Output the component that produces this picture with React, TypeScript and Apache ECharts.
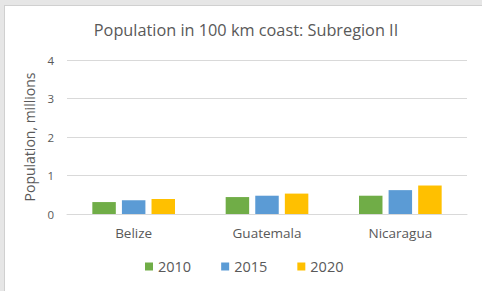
import React, { useEffect, useRef } from "react";
import * as echarts from "echarts";

const categories = ["Belize", "Guatemala", "Nicaragua"];
const years = ["2010", "2015", "2020"];
const values2010 = [0.31, 0.44, 0.475];
const values2015 = [0.355, 0.475, 0.62];
const values2020 = [0.39, 0.53, 0.74];
const yTicks = [0, 1, 2, 3, 4];

const colors = ["#70ad47", "#5b9bd5", "#ffc000"];
const font = "'Open Sans', 'Noto Sans', sans-serif";

export default function App() {
  const ref = useRef<HTMLDivElement>(null);
  useEffect(() => {
    document.body.style.margin = "0";
    document.body.style.background = "#e6e6e6";
    const chart = echarts.init(ref.current!, null, { renderer: "svg" });
    const data = [values2010, values2015, values2020];
    chart.setOption({
      animation: false,
      backgroundColor: "transparent",
      title: {
        text: "Population in 100 km coast: Subregion II",
        left: 241,
        textAlign: "center",
        top: 17,
        textStyle: { fontFamily: font, fontSize: 16.3, fontWeight: "normal", color: "#595959" },
      },
      legend: {
        data: years,
        bottom: 12,
        left: 140,
        itemWidth: 8,
        itemHeight: 8,
        itemGap: 30,
        icon: "rect",
        textStyle: { fontFamily: font, fontSize: 14.5, color: "#595959" },
      },
      grid: { left: 67, right: 15, top: 60, bottom: 77 },
      xAxis: {
        type: "category",
        data: categories,
        axisLine: { show: true, lineStyle: { color: "#d9d9d9", width: 1 } },
        axisTick: { show: false },
        axisLabel: { fontFamily: font, fontSize: 13.5, color: "#595959", margin: 12 },
      },
      yAxis: {
        type: "value",
        min: yTicks[0],
        max: yTicks[yTicks.length - 1],
        interval: 1,
        name: "Population, millions",
        nameLocation: "middle",
        nameGap: 22,
        nameTextStyle: { fontFamily: font, fontSize: 14, color: "#595959" },
        axisLine: { show: false },
        axisTick: { show: false },
        axisLabel: { fontFamily: font, fontSize: 11.5, color: "#595959", margin: 13 },
        splitLine: { lineStyle: { color: "#d9d9d9", width: 1 } },
      },
      series: years.map((y, i) => ({
        name: y,
        type: "bar",
        data: data[i],
        barGap: "26%",
        barCategoryGap: "38%",
        itemStyle: { color: colors[i] },
      })),
    });
    return () => chart.dispose();
  }, []);
  return (
    <div style={{ position: "relative", width: 482, height: 291 }}>
      <div
        style={{
          position: "absolute",
          left: 4,
          top: 5,
          width: 478,
          height: 286,
          background: "#ffffff",
          borderLeft: "1px solid #d0d0d0",
          borderTop: "1px solid #d0d0d0",
          boxSizing: "border-box",
        }}
      />
      <div ref={ref} style={{ position: "absolute", left: 0, top: 0, width: 482, height: 291 }} />
    </div>
  );
}
